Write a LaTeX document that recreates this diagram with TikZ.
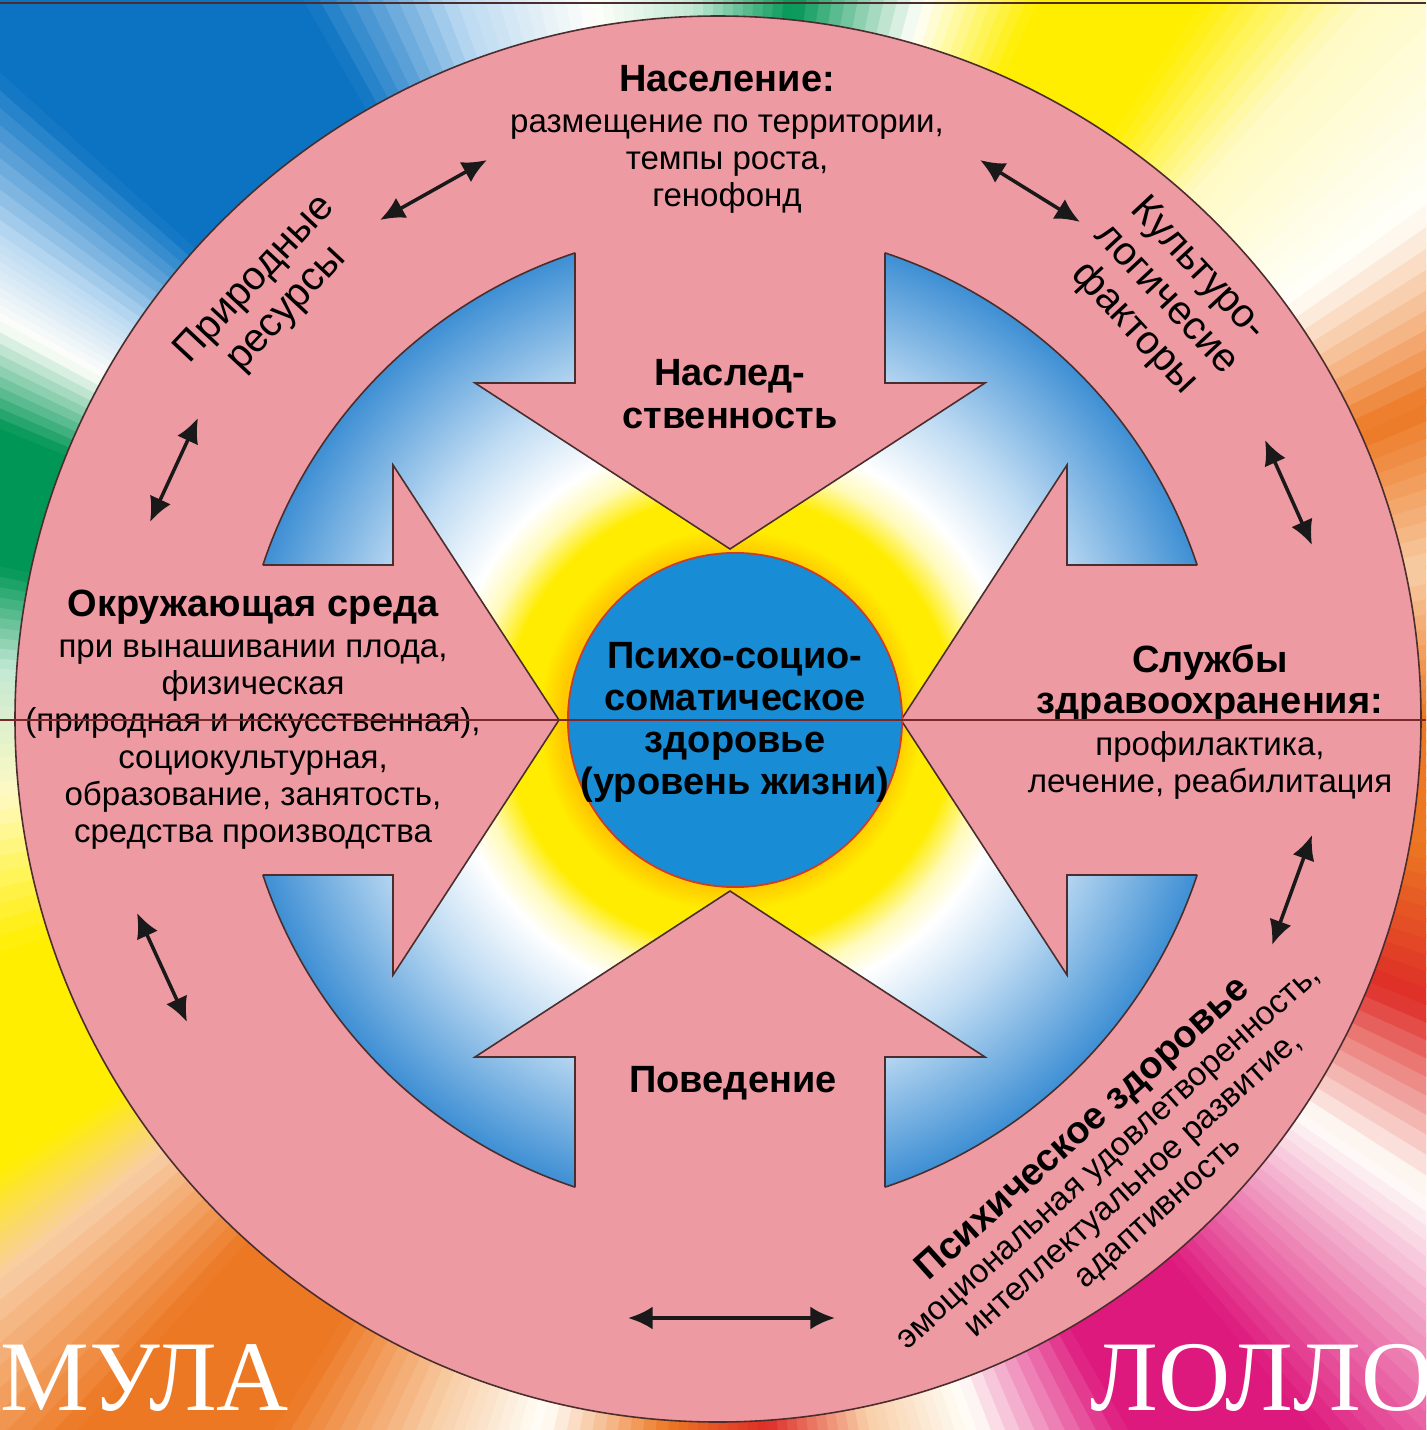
\documentclass[tikz,border=0pt]{standalone}
\usepackage{fontspec}
\setmainfont{Liberation Sans}
\newfontfamily\wmserif{Liberation Serif}
\usetikzlibrary{arrows.meta, calc}

\definecolor{ringpink}{RGB}{237,154,163}
\definecolor{rimdark}{RGB}{75,45,45}
\definecolor{coreblue}{RGB}{24,140,212}
\definecolor{corerim}{RGB}{205,60,35}
\definecolor{glowor}{RGB}{255,200,0}
\definecolor{glowyel}{RGB}{255,236,0}
\definecolor{glowpale}{RGB}{255,250,185}
\definecolor{glowlb}{RGB}{192,220,243}
\definecolor{glowblue}{RGB}{62,143,212}
\definecolor{arrowink}{RGB}{25,25,25}
\definecolor{hairred}{RGB}{120,40,40}
% background rays
\definecolor{bgorange}{RGB}{236,120,35}
\definecolor{bgpeach}{RGB}{248,205,165}
\definecolor{bgwhite}{RGB}{255,255,250}
\definecolor{bgyellow}{RGB}{255,238,0}
\definecolor{bgpaleyel}{RGB}{255,250,195}
\definecolor{bggreen}{RGB}{0,150,85}
\definecolor{bgpalegreen}{RGB}{195,232,212}
\definecolor{bgblue}{RGB}{12,115,195}
\definecolor{bgpaleblue}{RGB}{188,218,242}
\definecolor{bgred}{RGB}{222,45,40}
\definecolor{bgmagenta}{RGB}{222,25,125}
\definecolor{bgpink}{RGB}{238,140,185}

% r = 492 of the glow disc is 25bp
\pgfdeclareradialshading{glow}{\pgfpoint{0bp}{0bp}}{%
  color(0bp)=(glowor); color(8.5bp)=(glowor); color(9.7bp)=(glowyel);
  color(11.4bp)=(glowyel); color(13bp)=(glowpale); color(14.5bp)=(white);
  color(18.3bp)=(glowlb); color(25bp)=(glowblue); color(50bp)=(glowblue)}

% centred lines of one label
\newcommand\lines[1]{\begin{tabular}{@{}c@{}}#1\end{tabular}}
\newcommand\ttl{\fontsize{10.8}{12.2}\selectfont\bfseries}

\begin{document}
\begin{tikzpicture}[x=0.01cm, y=-0.01cm,
    % ── Text styles ──────────────────────────────────────────────
    lbl/.style={inner sep=0pt, text=black,
        font=\fontsize{9.4}{10.5}\selectfont},
    ttlnode/.style={lbl, font=\fontsize{10.8}{12.2}\selectfont\bfseries},
    ringlbl/.style={lbl, font=\fontsize{11.4}{12.4}\selectfont},
    core/.style={circle, fill=coreblue, draw=corerim, line width=0.5pt,
        minimum size=3.34cm, inner sep=0pt,
        font=\fontsize{10.8}{12}\selectfont\bfseries},
    wm/.style={inner sep=0pt, text=white,
        font=\wmserif\fontsize{28.4}{30}\selectfont},
    % ── Line styles ──────────────────────────────────────────────
    rim/.style={draw=rimdark, line width=0.45pt},
    dbl/.style={{Latex[length=7pt,width=6.5pt]}-{Latex[length=7pt,width=6.5pt]},
        line width=1pt, draw=arrowink},
    hair/.style={draw=hairred, line width=0.3pt}
]
\useasboundingbox (0,0) rectangle (1426,1430);
\clip (0,0) rectangle (1426,1430);

\coordinate (bgc) at (718,719);
\coordinate (c) at (730,720);

% ═══════════════════════════════════════════════════════════════
% 1. Rainbow rays
% ═══════════════════════════════════════════════════════════════
\begin{scope}[shift={(bgc)}]
\foreach \ta/\tb/\ca/\cb in {0/12/bgorange/bgpeach, 12/24/bgpeach/bgorange,
    24/36/bgorange/bgwhite, 36/48/bgwhite/bgpaleyel, 48/56/bgpaleyel/bgyellow,
    56/66/bgyellow/bgyellow, 66/74/bgyellow/bgwhite, 74/84/bgwhite/bggreen,
    84/92/bggreen/bgpalegreen, 92/100/bgpalegreen/bgwhite,
    100/110/bgwhite/bgpaleblue, 110/120/bgpaleblue/bgblue,
    120/138/bgblue/bgblue, 138/146/bgblue/bgpaleblue,
    146/151/bgpaleblue/bgwhite, 151/158/bgwhite/bggreen,
    158/168/bggreen/bggreen, 168/176/bggreen/bgpalegreen,
    176/186/bgpalegreen/bgpaleyel, 186/198/bgpaleyel/bgyellow,
    198/212/bgyellow/bgyellow, 212/218/bgyellow/bgpeach,
    218/228/bgpeach/bgorange, 228/238/bgorange/bgorange,
    238/248/bgorange/bgpeach, 248/256/bgpeach/bgwhite,
    256/266/bgwhite/bgorange, 266/274/bgorange/bgred,
    274/282/bgred/bgpeach, 282/290/bgpeach/bgwhite,
    290/300/bgwhite/bgmagenta, 300/310/bgmagenta/bgmagenta,
    310/318/bgmagenta/bgpink, 318/326/bgpink/bgwhite,
    326/338/bgwhite/bgred, 338/350/bgred/bgorange,
    350/360/bgorange/bgorange}{
  \foreach \k in {0,...,9}{
    \pgfmathtruncatemacro\pmix{100-(\k+0.5)*10}
    \pgfmathsetmacro\aa{\ta+(\tb-\ta)*\k/10}
    \pgfmathsetmacro\bb{\ta+(\tb-\ta)*(\k+1)/10+0.3}
    \fill[\ca!\pmix!\cb] (0,0) -- (-\aa:1700) -- (-\bb:1700) -- cycle;
  }
}
\end{scope}
\coordinate (tl) at (0,3);
\coordinate (tr) at (1426,3);
\draw[rimdark, line width=0.6pt] (tl) -- (tr);

% ═══════════════════════════════════════════════════════════════
% 2. Pink ring and blue glow
% ═══════════════════════════════════════════════════════════════
\fill[ringpink] (bgc) circle (703);
\draw[rim] (bgc) circle (703);
\shade[shading=glow] (c) circle (492);
\draw[rim] (c) circle (492);

% Four inward arrows
\foreach \r in {0,90,180,270}{
  \fill[ringpink, shift={(c)}, rotate=\r]
    (-155,-640) -- (-155,-337) -- (-255,-337) -- (0,-171)
    -- (255,-337) -- (155,-337) -- (155,-640) -- cycle;
}
\begin{scope}
  \clip (c) circle (492);
  \foreach \r in {0,90,180,270}{
    \draw[rim, shift={(c)}, rotate=\r]
      (-155,-640) -- (-155,-337) -- (-255,-337) -- (0,-171)
      -- (255,-337) -- (155,-337) -- (155,-640);
  }
\end{scope}

% ═══════════════════════════════════════════════════════════════
% 3. Centre
% ═══════════════════════════════════════════════════════════════
\node[core] (health) at (735,720) {};
\node[ttlnode, font=\fontsize{10.8}{12}\selectfont\bfseries] (healthtext) at (735,723)
    {\lines{Психо-социо-\\ соматическое\\ здоровье\\ (уровень жизни)}};

% ═══════════════════════════════════════════════════════════════
% 4. Factors
% ═══════════════════════════════════════════════════════════════
\node[lbl] (population) at (727,141)
    {\lines{\ttl Население:\\[1.2pt] размещение по территории,\\ темпы роста,\\ генофонд}};
\node[ttlnode] (heredity) at (730,398) {\lines{Наслед-\\ ственность}};
\node[ttlnode] (behaviour) at (733,1083) {Поведение};
\node[lbl] (environment) at (253,722)
    {\lines{\ttl Окружающая среда\\[1.2pt] при вынашивании плода,\\ физическая\\
     (природная и искусственная),\\ социокультурная,\\ образование, занятость,\\
     средства производства}};
\node[lbl] (services) at (1210,724)
    {\lines{\ttl Службы\\[1.3pt] \ttl здравоохранения:\\[1.3pt] профилактика,\\
     лечение, реабилитация}};
\node[ringlbl, rotate=47] (resources) at (272,295) {\lines{Природные\\ ресурсы}};
\node[ringlbl, rotate=-47] (culture) at (1165,300)
    {\lines{Культуро-\\ логичесие\\ факторы}};
\node[lbl, rotate=42] (mental) at (1122,1172)
    {\lines{\ttl Психическое здоровье\\ эмоциональная удовлетворенность,\\
     интеллектуальное развитие,\\ адаптивность}};

% ═══════════════════════════════════════════════════════════════
% 5. Links along the ring
% ═══════════════════════════════════════════════════════════════
\coordinate (l1a) at (380,220);  \coordinate (l1b) at (487,160);
\coordinate (l2a) at (980,160);  \coordinate (l2b) at (1080,222);
\coordinate (l3a) at (150,522);  \coordinate (l3b) at (198,418);
\coordinate (l4a) at (1265,440); \coordinate (l4b) at (1312,545);
\coordinate (l5a) at (137,913);  \coordinate (l5b) at (187,1022);
\coordinate (l6a) at (1312,835); \coordinate (l6b) at (1272,945);
\coordinate (l7a) at (628,1318); \coordinate (l7b) at (835,1318);
\draw[dbl] (l1a) -- (l1b);
\draw[dbl] (l2a) -- (l2b);
\draw[dbl] (l3a) -- (l3b);
\draw[dbl] (l4a) -- (l4b);
\draw[dbl] (l5a) -- (l5b);
\draw[dbl] (l6a) -- (l6b);
\draw[dbl] (l7a) -- (l7b);

\coordinate (hl) at (0,720);
\coordinate (hr) at (1426,720);
\draw[hair] (hl) -- (hr);

% Watermark
\node[wm, anchor=base west] (wmleft) at (0,1410) {МУЛА};
\node[wm, anchor=base west] (wmright) at (1090,1410) {ЛОЛЛО};

\end{tikzpicture}
\end{document}
